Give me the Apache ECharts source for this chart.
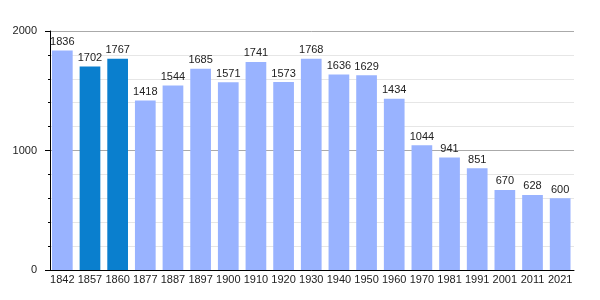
<!DOCTYPE html>
<html><head><meta charset="utf-8">
<script src="https://cdn.jsdelivr.net/npm/echarts@6/dist/echarts.min.js"></script>
<style>html,body{margin:0;padding:0;background:#fff}#c{width:600px;height:300px}</style>
</head><body><div id="c"></div>
<script>
const years = ["1842","1857","1860","1877","1887","1897","1900","1910","1920","1930","1940","1950","1960","1970","1981","1991","2001","2011","2021"];
const population = [1836,1702,1767,1418,1544,1685,1571,1741,1573,1768,1636,1629,1434,1044,941,851,670,628,600];
const highlighted = ["1857","1860"];
const yTicks = [0, 1000, 2000];

const lightColor = '#99b3ff', darkColor = '#0a7fce';
const chart = echarts.init(document.getElementById('c'), null, {renderer:'canvas'});
chart.setOption({
  animation: false,
  grid: {left: 48.5, right: 26, top: 31, bottom: 30},
  xAxis: {
    type: 'category', data: years,
    axisLine: {lineStyle: {color: '#000', width: 1}},
    axisTick: {show: false},
    axisLabel: {color: '#222', fontSize: 11, margin: 4, fontFamily: 'Liberation Sans, Arial, sans-serif', interval: 0},
    splitLine: {show: false}
  },
  yAxis: {
    type: 'value', min: 0, max: 2000, interval: 1000, offset: -1.5,
    axisLine: {show: true, lineStyle: {color: '#000', width: 1}},
    axisTick: {show: true, length: 5, lineStyle: {color: '#000'}},
    minorTick: {show: true, splitNumber: 5, length: 2, lineStyle: {color: '#000'}},
    axisLabel: {color: '#222', fontSize: 11, margin: 13, fontFamily: 'Liberation Sans, Arial, sans-serif',
      formatter: v => yTicks.includes(v) ? String(v) : ''},
    splitLine: {show: true, lineStyle: {color: '#aaa', width: 1}},
    minorSplitLine: {show: true, lineStyle: {color: '#e6e6e6', width: 1}}
  },
  series: [{
    type: 'bar', barWidth: 20.7,
    data: population.map((v, i) => ({value: v, itemStyle: {color: highlighted.includes(years[i]) ? darkColor : lightColor}})),
    label: {show: true, position: 'top', distance: 3, color: '#222', fontSize: 11, fontFamily: 'Liberation Sans, Arial, sans-serif'}
  }]
});
</script></body></html>
